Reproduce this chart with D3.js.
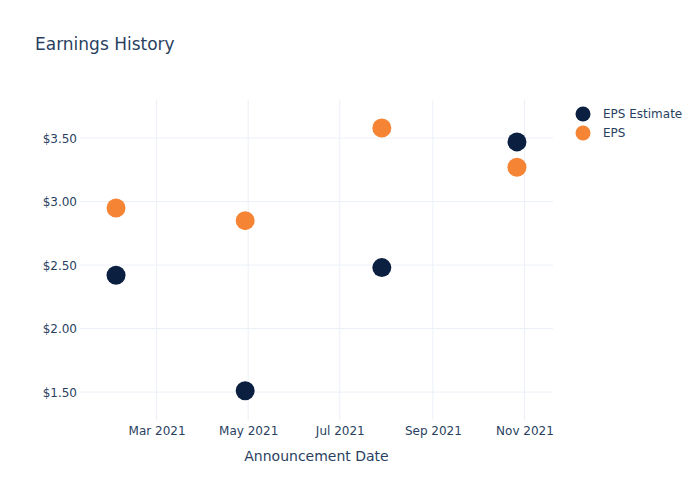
<!DOCTYPE html>
<html><head><meta charset="utf-8">
<script src="https://cdn.jsdelivr.net/npm/d3@7"></script>
<style>body{margin:0;background:#fff}svg{font-family:"DejaVu Sans",Verdana,sans-serif}</style>
</head><body><svg id="c" width="700" height="500"></svg>
<script>
const dates = ["2021-02-02","2021-04-29","2021-07-29","2021-10-27"];
const epsEstimate = [2.42, 1.51, 2.48, 3.47];
const eps = [2.95, 2.85, 3.58, 3.27];
const yTicks = [1.5, 2.0, 2.5, 3.0, 3.5];
const xTicks = ["2021-03-01","2021-05-01","2021-07-01","2021-09-01","2021-11-01"];
const seriesNames = ["EPS Estimate", "EPS"];
const colors = ["#0b1f41", "#f68435"];

const parse = d3.utcParse("%Y-%m-%d");
const svg = d3.select("#c");
const L = 80, R = 553, T = 100, B = 420;
const x = d3.scaleUtc().domain([parse("2021-01-09"), parse("2021-11-20")]).range([L, R]);
const y = d3.scaleLinear().domain([1.28, 3.80]).range([B, T]);
const txt = "#2a3f5f", grid = "#ebf0f8";

svg.append("g").selectAll("line").data(xTicks).join("line")
  .attr("x1", d => x(parse(d))).attr("x2", d => x(parse(d)))
  .attr("y1", T).attr("y2", B).attr("stroke", grid);
svg.append("g").selectAll("line").data(yTicks).join("line")
  .attr("x1", L).attr("x2", R).attr("y1", d => y(d)).attr("y2", d => y(d)).attr("stroke", grid);

const yAxis = d3.axisLeft(y).tickValues(yTicks).tickFormat(d => "$" + d3.format(".2f")(d)).tickSize(0).tickPadding(3);
const gy = svg.append("g").attr("transform", `translate(${L},0)`).call(yAxis);
gy.select(".domain").remove();
gy.selectAll("text").attr("fill", txt).attr("font-size", 12).attr("font-family", "DejaVu Sans").attr("dy", "0.35em");

const xAxis = d3.axisBottom(x).tickValues(xTicks.map(parse)).tickFormat(d3.utcFormat("%b %Y")).tickSize(0).tickPadding(6);
const gx = svg.append("g").attr("transform", `translate(0,${B})`).call(xAxis);
gx.select(".domain").remove();
gx.selectAll("text").attr("fill", txt).attr("font-size", 12).attr("font-family", "DejaVu Sans").attr("dy", "0.71em");

[epsEstimate, eps].forEach((vals, i) => {
  svg.append("g").selectAll("circle").data(vals).join("circle")
    .attr("cx", (d, j) => x(parse(dates[j]))).attr("cy", d => y(d))
    .attr("r", 9.5).attr("fill", colors[i]);
});

svg.append("text").attr("x", 35).attr("y", 50).attr("fill", txt).attr("font-size", 17).text("Earnings History");
svg.append("text").attr("x", (L + R) / 2).attr("y", 461).attr("text-anchor", "middle").attr("fill", txt).attr("font-size", 14).text("Announcement Date");

const lg = svg.append("g");
seriesNames.forEach((n, i) => {
  lg.append("circle").attr("cx", 583).attr("cy", 114 + i * 19).attr("r", 7.5).attr("fill", colors[i]);
  lg.append("text").attr("x", 603).attr("y", 114 + i * 19).attr("dy", "0.35em").attr("fill", txt).attr("font-size", 12).text(n);
});
</script></body></html>
